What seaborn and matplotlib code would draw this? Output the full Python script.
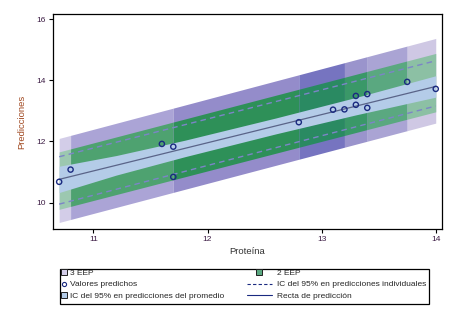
import numpy as np
import matplotlib
matplotlib.use("Agg")
import matplotlib.pyplot as plt
from matplotlib.lines import Line2D
from matplotlib.patches import Rectangle
import seaborn as sns

# observed points (Proteina vs predicted values)
proteina = [10.7, 10.8, 11.6, 11.7, 11.7, 12.8, 13.1, 13.2, 13.3, 13.3, 13.4, 13.4, 13.75, 14.0]
predichos = [10.68, 11.08, 11.92, 11.83, 10.84, 12.63, 13.04, 13.05, 13.49, 13.2, 13.55, 13.1, 13.95, 13.72]

# prediction line and bands, read at the ends of the x range
band_x = [10.7, 14.0]
recta = [10.76, 13.80]
eep3_lo, eep3_hi = [9.35, 12.60], [12.10, 15.37]
eep2_lo, eep2_hi = [9.78, 12.97], [11.66, 14.88]
ind_lo, ind_hi = [9.95, 13.16], [11.50, 14.64]

# CI of the mean (narrower in the middle)
media_x = [10.7, 11.2, 11.8, 12.6, 13.3, 14.0]
media_lo = [10.33, 10.90, 11.50, 12.25, 12.87, 13.45]
media_hi = [11.19, 11.54, 12.04, 12.77, 13.44, 14.15]

# shading changes where the stacked areas overlap
seg_edges = [10.7, 10.8, 11.7, 12.8, 13.2, 13.4, 13.75, 14.0]
seg_purple = ['#d3cde8', '#aba4d6', '#948cca', '#7674c0', '#9a94cc', '#aaa4d4', '#cfc8e4']
seg_green = ['#9cc8b0', '#4ea270', '#2e9058', '#2a8a62', '#3a9868', '#5aa880', '#8cc0a4']

sns.set_style("white")
plt.rcParams['font.family'] = ['Liberation Sans', 'DejaVu Sans']

fig = plt.figure(figsize=(4.59, 3.11), dpi=100)
ax = fig.add_axes([0.115, 0.264, 0.848, 0.691])

for i in range(len(seg_purple)):
    xs = seg_edges[i:i + 2]
    ax.fill_between(xs, np.interp(xs, band_x, eep3_lo), np.interp(xs, band_x, eep3_hi),
                    color=seg_purple[i], lw=0)
    ax.fill_between(xs, np.interp(xs, band_x, eep2_lo), np.interp(xs, band_x, eep2_hi),
                    color=seg_green[i], lw=0)

ax.fill_between(media_x, media_lo, media_hi, color='#b4cce8', lw=0)

sns.lineplot(x=band_x, y=ind_lo, ax=ax, color='#7c84c8', lw=1, linestyle=(0, (4, 3)))
sns.lineplot(x=band_x, y=ind_hi, ax=ax, color='#7c84c8', lw=1, linestyle=(0, (4, 3)))
sns.lineplot(x=band_x, y=recta, ax=ax, color='#5a6488', lw=0.9)
sns.scatterplot(x=proteina, y=predichos, ax=ax, marker='o', s=14,
                facecolor='none', edgecolor='#1a2a80', linewidth=1.0, zorder=5)

ax.set_xlim(10.644, 14.055)
ax.set_ylim(9.14, 16.17)
ax.set_xticks([11, 12, 13, 14])
ax.set_yticks([10, 12, 14, 16])
ax.tick_params(axis='both', labelsize=6, length=3, width=0.8, colors='black',
               labelcolor='#3c1c44', direction='out', pad=2)
ax.tick_params(left=True, bottom=True)
for sp in ax.spines.values():
    sp.set_color('black')
    sp.set_linewidth(0.9)
ax.set_xlabel('Proteína', fontsize=6.8, color='#333333', labelpad=3)
ax.set_ylabel('Predicciones', fontsize=6.8, color='#a04820', labelpad=7)

W, H = 459, 311
sq = dict(marker='s', ls='none', markersize=4, markeredgecolor='#202020', markeredgewidth=0.7)
col1 = [
    Line2D([], [], markerfacecolor='#d3cde8', **sq),
    Line2D([], [], marker='o', ls='none', markersize=3, markerfacecolor='none',
           markeredgecolor='#1a2a80', markeredgewidth=0.8),
    Line2D([], [], markerfacecolor='#b4cce8', **sq),
]
col2 = [
    Line2D([], [], markerfacecolor='#5aa880', **sq),
    Line2D([], [], color='#1a2a80', lw=0.8, ls=(0, (3, 2))),
    Line2D([], [], color='#1a2a80', lw=0.8),
]
lab1 = ['3 EEP', 'Valores predichos', 'IC del 95% en predicciones del promedio']
lab2 = ['2 EEP', 'IC del 95% en predicciones individuales', 'Recta de predicción']

common = dict(loc='upper left', fontsize=6, frameon=False, labelspacing=0.42,
              borderpad=0.1, borderaxespad=0, handleheight=0.7)
leg1 = fig.legend(col1, lab1, bbox_to_anchor=(61 / W, 1 - 268.5 / H),
                  handlelength=0.6, handletextpad=0.35, **common)
leg2 = fig.legend(col2, lab2, bbox_to_anchor=(246 / W, 1 - 268.5 / H),
                  handlelength=3.0, handletextpad=0.6, **common)
fig.patches.append(Rectangle((60 / W, 1 - 304 / H), 369 / W, 35 / H, transform=fig.transFigure,
                             fill=False, edgecolor='black', lw=0.9))

fig.savefig('out.png', dpi=100)
